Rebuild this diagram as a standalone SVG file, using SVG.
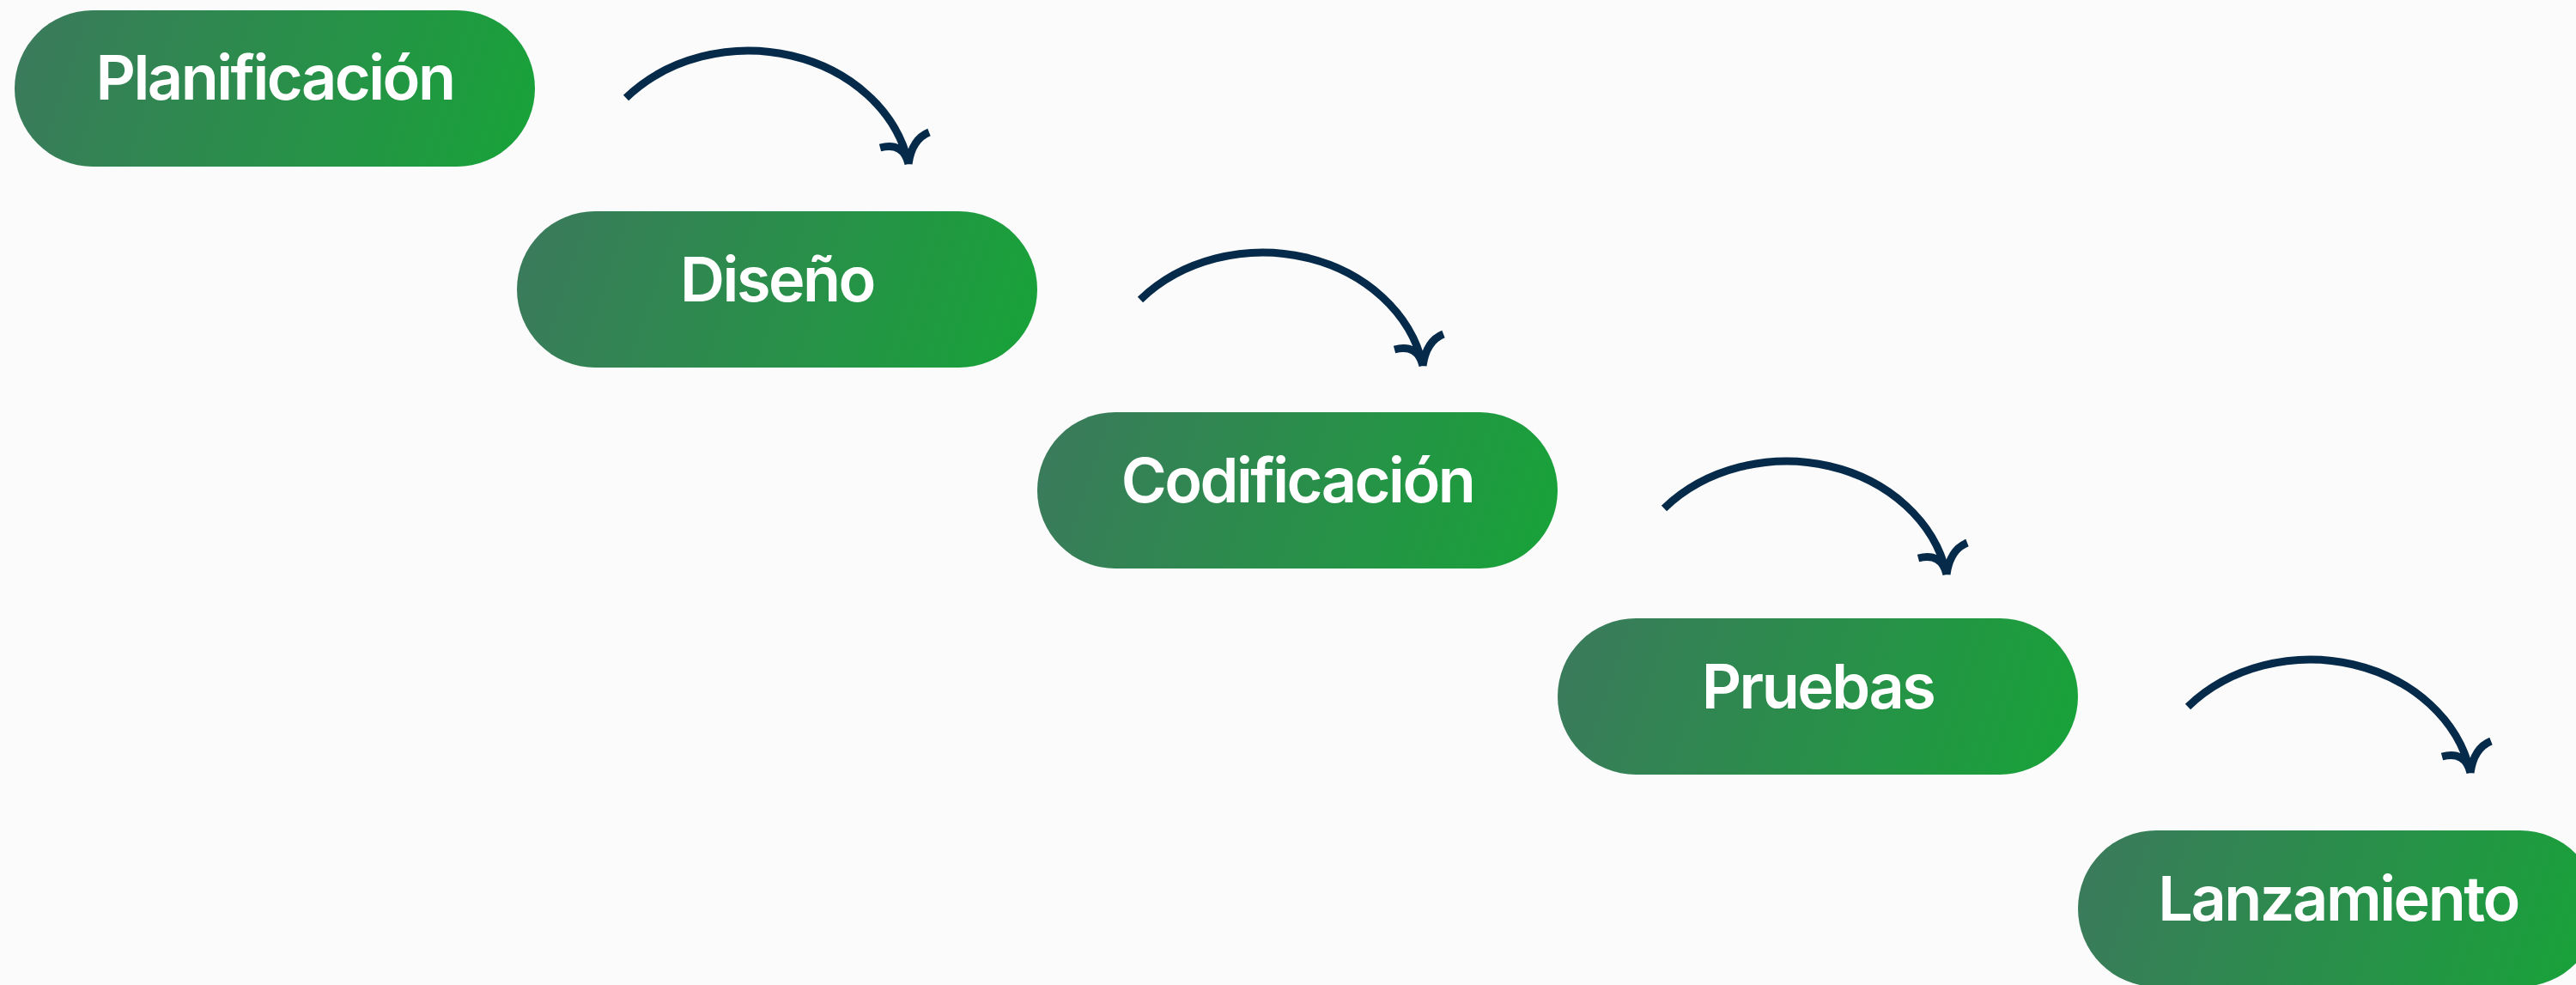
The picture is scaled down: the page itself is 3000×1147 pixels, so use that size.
<svg xmlns="http://www.w3.org/2000/svg" width="3000" height="1147" viewBox="0 0 3000 1147">
  <style>
    .pill { fill: url(#g); }
    .lbl { font-family: Inter, "Liberation Sans", sans-serif; font-size: 72px; font-weight: 600; letter-spacing: -2.5px; fill: #ffffff; text-anchor: middle; }
    .arrow { fill: none; stroke: #062a49; stroke-width: 9; stroke-linecap: butt; }
  </style>
  <defs>
    <linearGradient id="g" x1="0" y1="0.45" x2="1" y2="0.55">
      <stop offset="0" stop-color="#3a7b5b"/>
      <stop offset="1" stop-color="#19a13a"/>
    </linearGradient>
  </defs>
  <rect width="3000" height="1147" fill="#fbfbfb"/>
  <g id="connectors">
    <path class="arrow" transform="translate(729,114)" d="M0 0 A190 162 0 0 1 329 76 M296 58 Q323 51 329 77 M353 40 Q333 48 329 77"/>
    <path class="arrow" transform="translate(1328,349)" d="M0 0 A190 162 0 0 1 329 76 M296 58 Q323 51 329 77 M353 40 Q333 48 329 77"/>
    <path class="arrow" transform="translate(1938,592)" d="M0 0 A190 162 0 0 1 329 76 M296 58 Q323 51 329 77 M353 40 Q333 48 329 77"/>
    <path class="arrow" transform="translate(2548,823)" d="M0 0 A190 162 0 0 1 329 76 M296 58 Q323 51 329 77 M353 40 Q333 48 329 77"/>
  </g>
  <g id="node-planificacion">
    <rect class="pill" x="17" y="12" width="606" height="182" rx="91"/>
    <text class="lbl" x="320" y="116">Planificación</text>
  </g>
  <g id="node-diseno">
    <rect class="pill" x="602" y="246" width="606" height="182" rx="91"/>
    <text class="lbl" x="905" y="351">Diseño</text>
  </g>
  <g id="node-codificacion">
    <rect class="pill" x="1208" y="480" width="606" height="182" rx="91"/>
    <text class="lbl" x="1511" y="585">Codificación</text>
  </g>
  <g id="node-pruebas">
    <rect class="pill" x="1814" y="720" width="606" height="182" rx="91"/>
    <text class="lbl" x="2117" y="825">Pruebas</text>
  </g>
  <g id="node-lanzamiento">
    <rect class="pill" x="2420" y="967" width="606" height="182" rx="91"/>
    <text class="lbl" x="2723" y="1072">Lanzamiento</text>
  </g>
</svg>
